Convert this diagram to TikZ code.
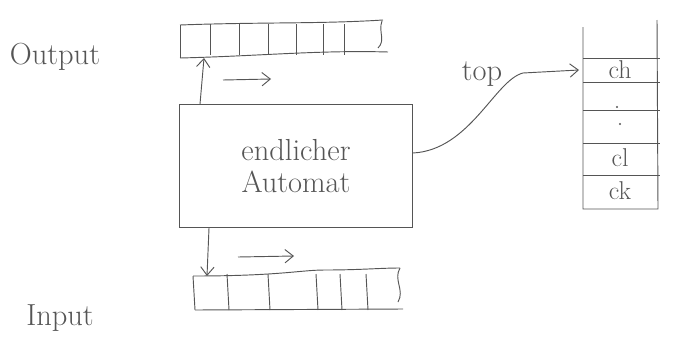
\documentclass[tikz,border=0pt]{standalone}
\usepackage{tikz}
\usetikzlibrary{arrows.meta}
\definecolor{pencil}{HTML}{555555}
\tikzset{hand/.style={font=\fontsize{26}{27}\selectfont,text=pencil},
  small hand/.style={font=\fontsize{22}{24}\selectfont,text=pencil}}

\begin{document}
\begin{tikzpicture}[x=.03cm,y=-.03cm,line width=.8pt,draw=pencil,>={Straight Barb[length=2.5mm,width=4mm]}]
\useasboundingbox (0,0) rectangle (678,360);
% output tape
\draw[pencil] (180,25) .. controls (260,22) and (320,24) .. (383,20);
\draw[pencil] (180,58) .. controls (260,56) and (320,50) .. (388,52);
\draw[pencil] (180,25)--(180,58);
\draw[pencil] (382,21) .. controls (378,32) and (386,40) .. (378,48);
\foreach \x in {210,239,268,296,323,344} \draw[pencil] (\x,24)--(\x,55);
\node[hand] (out) at (55,57) {Output};
% automaton
\node[draw=pencil,minimum width=6.99cm,minimum height=3.69cm,inner sep=0,hand,align=center] (fa) at (296,166) {endlicher\\Automat};
\coordinate (o1) at (204,58);
\draw[pencil,->] (fa.north -| 200,0) -- (o1);
\draw[pencil,->] (223,80) -- (271,79);
% input tape
\draw[pencil] (193,276) .. controls (280,276) and (300,270) .. (325,270) .. controls (360,270) and (380,268) .. (400,268);
\draw[pencil] (195,310) -- (403,309);
\draw[pencil] (193,276)--(195,310);
\draw[pencil] (400,268) .. controls (393,280) and (405,290) .. (398,302);
\foreach \x in {227,268,316,340,366} \draw[pencil] (\x,274)--(\x+2,310);
\coordinate (i1) at (207,276);
\draw[pencil,->] (fa.south -| 209,0) -- (i1);
\draw[pencil,->] (238,257) -- (294,256);
\node[hand] (in) at (60,318) {Input};
% stack
\draw[pencil] (583,27)--(583,209)--(658,209)--(657,20);
\foreach \y in {58,82,110,143,175} \draw[pencil] (583,\y)--(660,\y);
\node[small hand] (sh) at (620,70) {ch};
\fill[pencil] (617,107) circle (1.2) (620,124) circle (1.2);
\node[small hand] (sl) at (620,158) {cl};
\node[small hand] (sk) at (620,191) {ck};
% stack pointer
\node[hand] (top) at (482,74) {top};
\coordinate (tp) at (523,73);
\draw[pencil] ([yshift=.39cm]fa.east) .. controls (470,150) and (495,80) .. (tp);
\draw[pencil,->] (tp) -- (sh.west -| 579,0);
\end{tikzpicture}
\end{document}
